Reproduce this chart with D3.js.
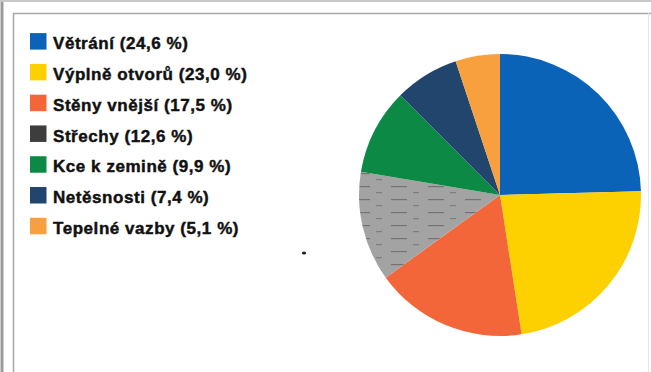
<!DOCTYPE html>
<html><head><meta charset="utf-8">
<script src="https://cdn.jsdelivr.net/npm/d3@7"></script>
<style>html,body{margin:0;padding:0;background:#fff;}svg{display:block;}</style>
</head><body>
<svg id="c" width="651" height="372"></svg>
<script>
const categories = ["Větrání", "Výplně otvorů", "Stěny vnější", "Střechy", "Kce k zemině", "Netěsnosti", "Tepelné vazby"];
const values = [24.6, 23.0, 17.5, 12.6, 9.9, 7.4, 5.1];
const labels = ["Větrání (24,6 %)", "Výplně otvorů (23,0 %)", "Stěny vnější (17,5 %)", "Střechy (12,6 %)", "Kce k zemině (9,9 %)", "Netěsnosti (7,4 %)", "Tepelné vazby (5,1 %)"];
const colors = ["#0b63b8", "#fdd100", "#f3663a", "#a3a3a3", "#0c8a45", "#22456e", "#f8a03e"];
const legendColors = ["#0b63b8", "#fdd100", "#f3663a", "#3d3d3d", "#0c8a45", "#22456e", "#f8a03e"];

const svg = d3.select("#c");

// scan frame
svg.append("rect").attr("x",0).attr("y",0).attr("width",651).attr("height",372).attr("fill","#fff");
svg.append("line").attr("x1",2).attr("x2",2).attr("y1",0).attr("y2",372).attr("stroke","#9a9a9a").attr("stroke-width",3);
svg.append("line").attr("x1",0).attr("x2",651).attr("y1",1).attr("y2",1).attr("stroke","#c8c8c8").attr("stroke-width",2);
svg.append("line").attr("x1",13).attr("x2",651).attr("y1",13.5).attr("y2",13.5).attr("stroke","#a8a8a8").attr("stroke-width",1.5);
svg.append("line").attr("x1",13.5).attr("x2",13.5).attr("y1",13).attr("y2",372).attr("stroke","#a8a8a8").attr("stroke-width",1.5);
svg.append("line").attr("x1",648.5).attr("x2",648.5).attr("y1",13).attr("y2",372).attr("stroke","#e6e6e6").attr("stroke-width",1);

// pattern for Střechy slice
const defs = svg.append("defs");
const pat = defs.append("pattern").attr("id","grayTex").attr("patternUnits","userSpaceOnUse").attr("width",37).attr("height",13);
pat.append("rect").attr("width",37).attr("height",13).attr("fill","#a3a3a3");
pat.append("rect").attr("x",2).attr("y",4).attr("width",16).attr("height",1.2).attr("fill","#3a3a3a").attr("opacity",0.45);
pat.append("rect").attr("x",24).attr("y",10).attr("width",6).attr("height",1.2).attr("fill","#3a3a3a").attr("opacity",0.35);

const cx = 500, cy = 195, r = 141;
const pie = d3.pie().sort(null).value(d => d);
const arc = d3.arc().innerRadius(0).outerRadius(r);
const g = svg.append("g").attr("transform", `translate(${cx},${cy})`);
g.selectAll("path").data(pie(values)).join("path")
  .attr("d", arc)
  .attr("fill", (d,i) => i === 3 ? "url(#grayTex)" : colors[i]);

// legend
const y = d3.scalePoint().domain(categories).range([41.3, 226]);
const lg = svg.append("g");
categories.forEach((c,i) => {
  lg.append("rect").attr("x",30).attr("y",y(c)-8.2).attr("width",16.5).attr("height",16.5).attr("fill",legendColors[i]);
  lg.append("text").attr("x",53).attr("y",y(c)+8)
    .attr("font-family","'Liberation Sans', Arial, sans-serif").attr("font-weight",700).attr("font-size",17)
    .attr("letter-spacing",0.55)
    .attr("stroke","#111").attr("stroke-width",0.45)
    .attr("fill","#111").text(labels[i]);
});

// scan speck
svg.append("ellipse").attr("cx",304).attr("cy",253).attr("rx",2.2).attr("ry",1.6).attr("fill","#222");
</script>
</body></html>
